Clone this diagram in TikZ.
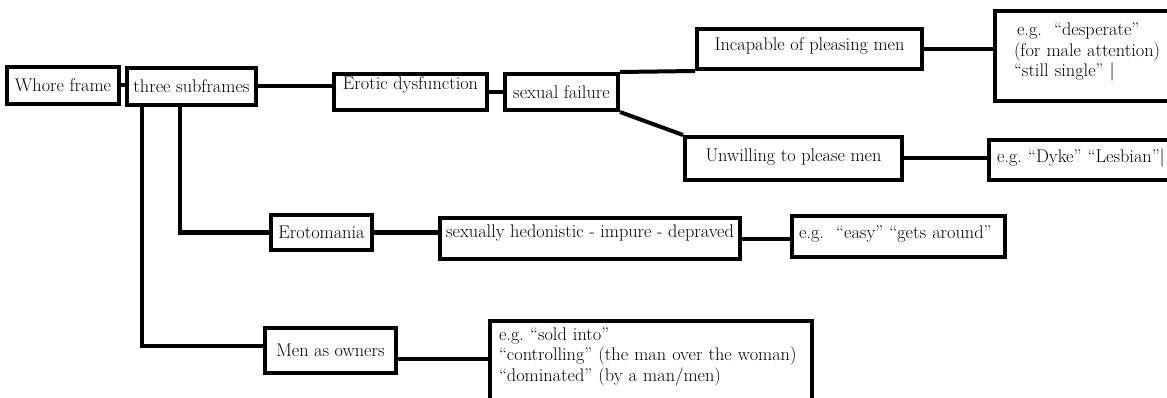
\documentclass[tikz,border=0pt]{standalone}
\usepackage{fontspec}
\usepackage{tikz}

\begin{document}
\begin{tikzpicture}[x=1pt, y=-1pt,
    box/.style={draw, line width=4pt, inner sep=0pt, anchor=north west,
      font=\fontsize{18.3}{20.5}\selectfont},
    link/.style={line width=4pt}]
            % 画布
            \useasboundingbox (0,0) rectangle (1167,398);
            \clip (0,0) rectangle (1167,398);
            % 方框
            \node[box, minimum width=112, minimum height=37] (whore) at (5,65) {Whore frame};
            \node[box, minimum width=129, minimum height=37] (three) at (125,66) {three subframes};
            \node[box, minimum width=153, minimum height=36, text height=12pt, text depth=16pt] (erotic) at (332,72) {Erotic dysfunction};
            \node[box, minimum width=113, minimum height=36] (failure) at (503,72) {sexual failure};
            \node[box, minimum width=225, minimum height=40, text height=12pt, text depth=8pt] (incap) at (695,27) {Incapable of pleasing men};
            \node[box, minimum width=200, minimum height=90, text width=162pt, align=left, text height=25pt, text depth=65pt] (desp) at (993,9)
              {\hspace{3pt}e.g.\ \ “desperate”\\(for male attention)\\“still single” |};
            \node[box, minimum width=217, minimum height=43, text height=12pt, text depth=6pt] (unw) at (683,135) {Unwilling to please men};
            \node[box, minimum width=230, minimum height=40, text width=214pt, align=left, text height=12pt, text depth=6pt] (dyke) at (987,138) {e.g.\ “Dyke” “Lesbian”|};
            \node[box, minimum width=101, minimum height=35] (ero) at (269,213) {Erotomania};
            \node[box, minimum width=300, minimum height=41, text height=12pt, text depth=15pt] (hed) at (438,216) {sexually hedonistic - impure - depraved};
            \node[box, minimum width=213, minimum height=41, text width=199pt, align=left, text height=12pt, text depth=7pt] (easy) at (790,214) {e.g.\ \ “easy” “gets around”};
            \node[box, minimum width=131, minimum height=45] (owners) at (263,326) {Men as owners};
            \node[box, minimum width=322, minimum height=100, text width=304pt, align=left, text height=19pt, text depth=81pt] (big) at (488,319)
              {e.g.\ “sold into”\\“controlling” (the man over the woman)\\“dominated” (by a man/men)};
            % 连线
            \draw[link] (whore.east) -- (whore.east -| three.west);
            \draw[link] (three.east) -- (three.east -| erotic.west);
            \draw[link] (erotic.east) -- (failure.west);
            \draw[link] (failure.north east) -- (incap.south west);
            \draw[link] (failure.south east) -- (unw.north west);
            \draw[link] (incap.east) -- (incap.east -| desp.west);
            \draw[link] (unw.east) -- (unw.east -| dyke.west);
            \draw[link] ([xshift=17pt]three.south west) |- ([yshift=5pt]owners.west);
            \draw[link] ([xshift=55pt]three.south west) |- (ero.west);
            \draw[link] (ero.east) -- (ero.east -| hed.west);
            \draw[link] (hed.east) -- (hed.east -| easy.west);
            \draw[link] ([yshift=-8pt]owners.east) -- ([yshift=-8pt]owners.east -| big.west);
        \end{tikzpicture}
\end{document}
